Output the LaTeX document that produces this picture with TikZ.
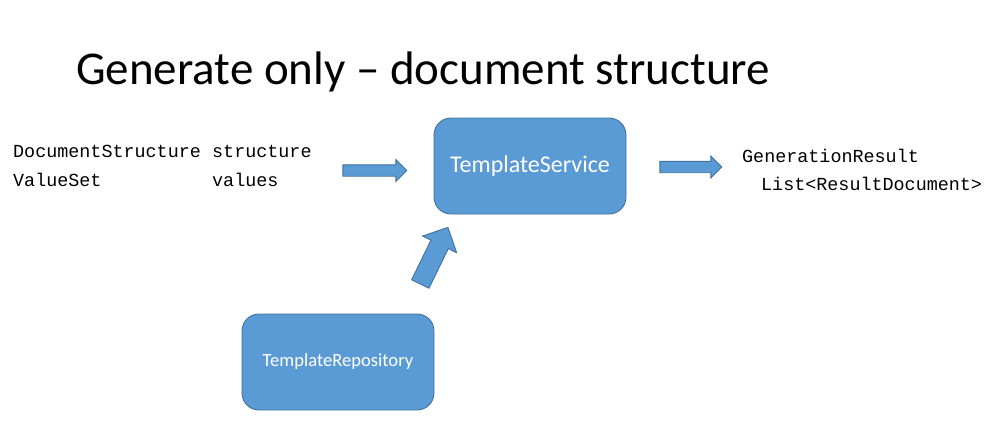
\documentclass[tikz,border=0pt]{standalone}
\usepackage{fontspec}
\setmainfont{Carlito}
\newfontfamily\codefont{Liberation Mono}
\usetikzlibrary{shapes.arrows}
\definecolor{boxblue}{HTML}{5B9BD5}
\definecolor{boxline}{HTML}{41719C}

\begin{document}
\begin{tikzpicture}[x=1pt, y=-1pt]
    % Styles
    \tikzstyle{service} = [rectangle, rounded corners=17pt, draw=boxline, line width=0.9pt, fill=boxblue, minimum width=192pt, minimum height=96pt, text=white, align=center]
    \tikzstyle{blockarrow} = [single arrow, draw=boxline, line width=0.9pt, fill=boxblue, inner xsep=0pt, inner ysep=5.25pt, single arrow head extend=5.25pt, minimum height=64pt]
    \tikzstyle{code} = [font=\codefont\fontsize{18.4}{29}\selectfont, align=left, inner sep=0pt, anchor=base west]

    \useasboundingbox (0,0) rectangle (996,423);

    % Title
    \node[font=\fontsize{47}{50}\selectfont, anchor=base] (title) at (423,84) {Generate only -- document structure};

    % Nodes
    \node[service, font=\fontsize{24}{27}\selectfont] (svc) at (530,166) {TemplateService};
    \node[service, font=\fontsize{18.6}{21}\selectfont] (repo) at (338,362) {TemplateRepository};

    % Inputs and result (base = last line)
    \node[code] (inTypes) at (13,186) {DocumentStructure\\ValueSet};
    \node[code] (inNames) at (212,186) {structure\\values};
    \node[code, font=\codefont\fontsize{18.4}{28}\selectfont] (result) at (742,190) {GenerationResult\\\hspace*{19pt}List<ResultDocument>};

    % Arrows
    \node[blockarrow] (inArrow) at (372,170.5) {};
    \node[blockarrow, minimum height=62pt] (outArrow) at (688,167) {};
    \node[blockarrow, inner ysep=9.2pt, single arrow head extend=9.3pt, minimum height=63pt, rotate=64] (repoArrow) at (432,260) {};
\end{tikzpicture}
\end{document}
